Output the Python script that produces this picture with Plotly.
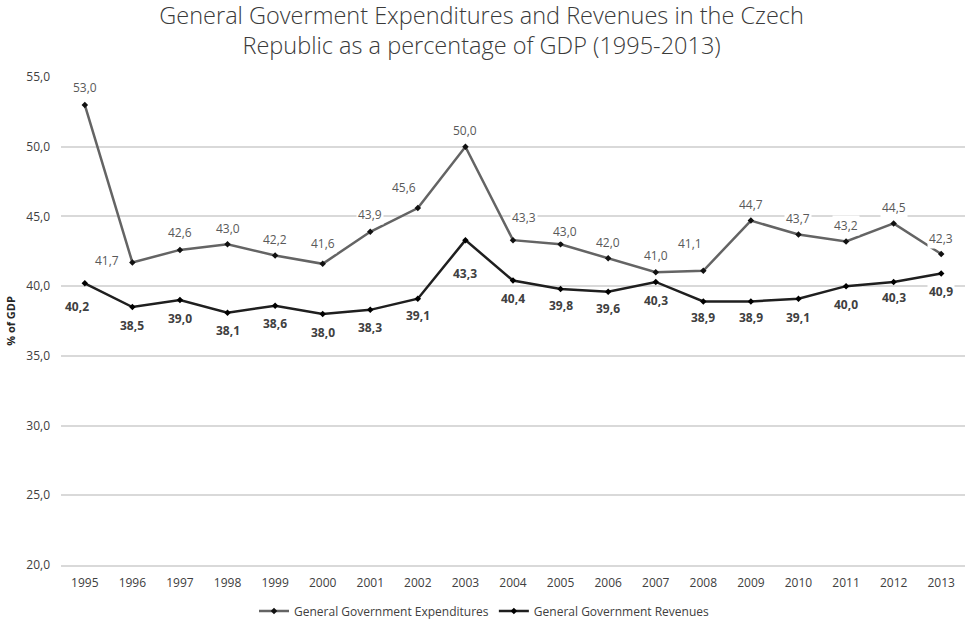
import plotly.graph_objects as go

# Data: general government expenditures and revenues, % of GDP
years = ["1995", "1996", "1997", "1998", "1999", "2000", "2001", "2002", "2003", "2004",
         "2005", "2006", "2007", "2008", "2009", "2010", "2011", "2012", "2013"]
expenditures = [53.0, 41.7, 42.6, 43.0, 42.2, 41.6, 43.9, 45.6, 50.0, 43.3,
                43.0, 42.0, 41.0, 41.1, 44.7, 43.7, 43.2, 44.5, 42.3]
revenues = [40.2, 38.5, 39.0, 38.1, 38.6, 38.0, 38.3, 39.1, 43.3, 40.4,
            39.8, 39.6, 40.3, 38.9, 38.9, 39.1, 40.0, 40.3, 40.9]

y_ticks = [20, 25, 30, 35, 40, 45, 50, 55]

# Label placement (pixel offsets from each point)
exp_dx = [0, -25, 0, 0, 0, 0, 0, -14, 0, 11, 4, 0, 0, -13, 0, 0, 0, 0, 0]
exp_dy = [17, 2, 17, 16, 16, 20, 17, 21, 16, 23, 13, 16, 17, 27, 16, 16, 16, 16, 16]
rev_dx = [-8, 0, 0, 0, 0, 0, 0, 0, 0, 0, 0, 0, 0, 0, 0, 0, 0, 0, 0]
rev_dy = [23, 18, 18, 18, 18, 18, 18, 17, 33, 18, 17, 17, 19, 16, 16, 19, 18, 16, 18]

FONT = "Open Sans"
EXP_COLOR = "#646464"
REV_COLOR = "#1f1f1f"


def fmt(v):
    return f"{v:.1f}".replace(".", ",")


fig = go.Figure()
fig.add_trace(go.Scatter(
    x=years, y=expenditures, mode="lines+markers",
    name="General Government Expenditures",
    line=dict(color=EXP_COLOR, width=2.5),
    marker=dict(symbol="diamond", size=5, color="#111111"),
))
fig.add_trace(go.Scatter(
    x=years, y=revenues, mode="lines+markers",
    name="General Government Revenues",
    line=dict(color=REV_COLOR, width=2.5),
    marker=dict(symbol="diamond", size=5, color="#000000"),
))

annotations = []
for i in range(len(years)):
    annotations.append(dict(
        x=i, y=expenditures[i], xref="x", yref="y",
        text=fmt(expenditures[i]), showarrow=False,
        xshift=exp_dx[i], yshift=exp_dy[i], bgcolor="white", borderpad=1,
        font=dict(family=FONT, size=12, color="#595959"),
    ))
    annotations.append(dict(
        x=i, y=revenues[i], xref="x", yref="y",
        text="<b>" + fmt(revenues[i]) + "</b>", showarrow=False,
        xshift=rev_dx[i], yshift=-rev_dy[i], bgcolor="white", borderpad=1,
        font=dict(family=FONT, size=12, color="#404040"),
    ))

fig.update_layout(
    width=969, height=620,
    margin=dict(l=61, r=4, t=77, b=55),
    plot_bgcolor="white", paper_bgcolor="white",
    title=dict(
        text="General Goverment Expenditures and Revenues in the Czech<br>Republic as a percentage of GDP (1995-2013)",
        x=0.497, xanchor="center", xref="container", y=0.962, yanchor="middle", yref="container",
        font=dict(family="Open Sans", size=23.5, color="#3a3a3a", weight=300),
    ),
    xaxis=dict(
        type="category", range=[-0.5, 18.5], showgrid=False,
        showline=True, linecolor="#d9d9d9", linewidth=1.5,
        ticks="", ticklabelstandoff=6,
        tickfont=dict(family=FONT, size=12, color="#404040"),
    ),
    yaxis=dict(
        range=[20, 55], tickvals=y_ticks,
        ticktext=[fmt(v) for v in y_ticks],
        showgrid=True, gridcolor="#d9d9d9", gridwidth=1.5, zeroline=False,
        ticks="", ticklabelstandoff=10,
        tickfont=dict(family=FONT, size=12, color="#404040"),
        title=dict(text="<b>% of GDP</b>", standoff=8,
                   font=dict(family=FONT, size=11, color="#262626")),
    ),
    legend=dict(
        orientation="h", x=0.5, xanchor="center", xref="container",
        y=0.0145, yanchor="middle", yref="container",
        font=dict(family=FONT, size=12, color="#404040"),
        itemwidth=30,
    ),
    annotations=annotations,
)

fig.write_html("out.html")
